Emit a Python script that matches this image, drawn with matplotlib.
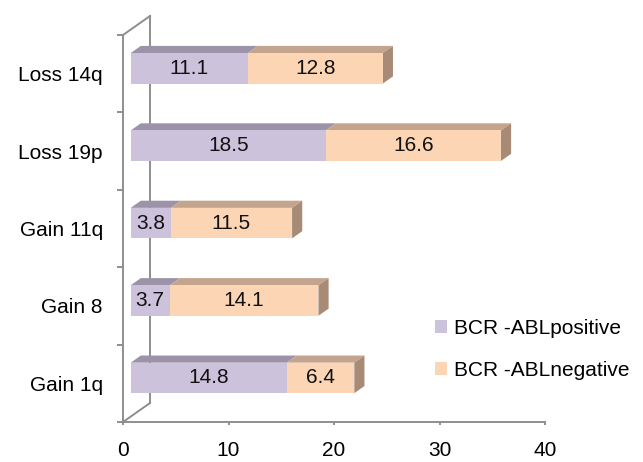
import matplotlib
matplotlib.use('Agg')
import matplotlib.pyplot as plt
from matplotlib.patches import Polygon, Patch

# Chromosomal changes, stacked by BCR-ABL status
categories = ['Gain 1q', 'Gain 8', 'Gain 11q', 'Loss 19p', 'Loss 14q']
positive = [14.8, 3.7, 3.8, 18.5, 11.1]
negative = [6.4, 14.1, 11.5, 16.6, 12.8]
series_labels = ['BCR -ABLpositive', 'BCR -ABLnegative']
x_ticks = [0, 10, 20, 30, 40]

plt.rcParams['font.family'] = ['Liberation Sans', 'DejaVu Sans']
FS = 15

# face colours: (front, top, side)
pos_colors = ('#CDC2DC', '#9D93A8', '#8A8196')
neg_colors = ('#FCD5B5', '#C4A48D', '#A88B77')
axis_gray = '#8E8E8E'

W, H = 643, 462
fig = plt.figure(figsize=(W / 100, H / 100), dpi=100)
left, right = 123, 545
top, bottom = 35, 422
ax = fig.add_axes([left / W, 1 - bottom / H, (right - left) / W, (bottom - top) / H])
ax.set_xlim(0, 40)
ax.set_ylim(0, 5)

# pseudo-3D depth vector of the chart box, in data units
DX = 27 * 40 / (right - left)
DY = 19 * 5 / (bottom - top)
F0, F1 = 0.284, 0.66     # front / back depth of the bars
HALF = 0.197             # half bar thickness


def draw_segment(x0, x1, yc, colors, with_side):
    front, topc, side = colors
    yb, yt = yc - HALF, yc + HALF
    fx, fy = F0 * DX, F0 * DY
    bx, by = F1 * DX, F1 * DY
    ax.add_patch(Polygon([(x0 + fx, yt + fy), (x1 + fx, yt + fy),
                          (x1 + bx, yt + by), (x0 + bx, yt + by)],
                         closed=True, facecolor=topc, edgecolor='none',
                         clip_on=False, zorder=3))
    if with_side:
        ax.add_patch(Polygon([(x1 + fx, yb + fy), (x1 + fx, yt + fy),
                              (x1 + bx, yt + by), (x1 + bx, yb + by)],
                             closed=True, facecolor=side, edgecolor='none',
                             clip_on=False, zorder=3))
    ax.add_patch(Polygon([(x0 + fx, yb + fy), (x1 + fx, yb + fy),
                          (x1 + fx, yt + fy), (x0 + fx, yt + fy)],
                         closed=True, facecolor=front, edgecolor='none',
                         clip_on=False, zorder=4))


for i, (p, n) in enumerate(zip(positive, negative)):
    yc = i + 0.5
    draw_segment(0, p, yc, pos_colors, False)
    draw_segment(p, p + n, yc, neg_colors, True)
    for x0, v in ((0, p), (p, n)):
        ax.text(x0 + v / 2 + F0 * DX, yc + F0 * DY, f'{v:.1f}',
                ha='center', va='center', fontsize=FS, color='#111111', zorder=5)

# back wall edges
lw = 1.4
ax.plot([DX, DX], [DY, 5 + DY], color=axis_gray, lw=lw, clip_on=False, zorder=1)
ax.plot([0, DX], [5, 5 + DY], color=axis_gray, lw=lw, clip_on=False, zorder=1)
ax.plot([0, DX], [0, DY], color=axis_gray, lw=lw, clip_on=False, zorder=1)

for s in ('top', 'right'):
    ax.spines[s].set_visible(False)
for s in ('left', 'bottom'):
    ax.spines[s].set_color(axis_gray)
    ax.spines[s].set_linewidth(lw)

ax.set_xticks(x_ticks)
ax.set_xticklabels([str(t) for t in x_ticks])
ax.tick_params(axis='x', direction='out', length=2.5, width=lw, color=axis_gray,
               pad=11, labelsize=FS)
ax.set_yticks(range(6))
ax.set_yticklabels([])
ax.tick_params(axis='y', which='major', direction='out', length=4.5, width=lw,
               color=axis_gray)
ax.set_yticks([i + 0.5 for i in range(len(categories))], minor=True)
ax.set_yticklabels(categories, minor=True)
ax.tick_params(axis='y', which='minor', length=0, pad=14.5, labelsize=FS)

handles = [Patch(facecolor=pos_colors[0], edgecolor='none'),
           Patch(facecolor=neg_colors[0], edgecolor='none')]
fig.legend(handles, series_labels, loc='upper left',
           bbox_to_anchor=(416 / W, 1 - 300 / H), frameon=False, fontsize=FS,
           handlelength=0.6, handleheight=0.6, handletextpad=0.3,
           labelspacing=1.12)

fig.savefig('out.png', dpi=100)
